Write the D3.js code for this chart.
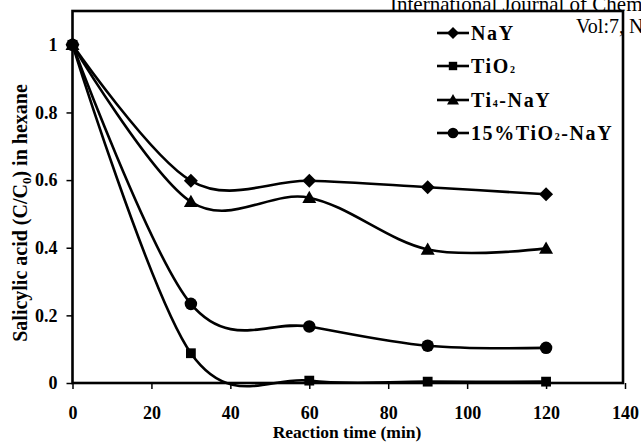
<!DOCTYPE html>
<html>
<head>
<meta charset="utf-8">
<script src="https://cdn.jsdelivr.net/npm/d3@7"></script>
<style>
  body { margin: 0; background: #fff; }
  svg { display: block; }
  svg text { font-family: "Liberation Serif", "Times New Roman", serif !important; fill: #000; }
</style>
</head>
<body>
<div id="chart"></div>
<script>
var WIDTH = 641, HEIGHT = 443;

// data
var times = [0, 30, 60, 90, 120];
var nay = [1, 0.598, 0.598, 0.579, 0.558];
var tio2 = [1, 0.088, 0.007, 0.004, 0.004];
var ti4nay = [1, 0.536, 0.548, 0.395, 0.398];
var tio2nay = [1, 0.234, 0.167, 0.110, 0.104];

var xTicks = [0, 20, 40, 60, 80, 100, 120, 140];
var yTicks = [0, 0.2, 0.4, 0.6, 0.8, 1];

var series = [
  {name: "NaY", sub: null, values: nay, marker: "diamond"},
  {name: "TiO", sub: "2", after: "", values: tio2, marker: "square"},
  {name: "Ti", sub: "4", after: "-NaY", values: ti4nay, marker: "triangle"},
  {name: "15%TiO", sub: "2", after: "-NaY", values: tio2nay, marker: "circle"}
];

var margin = {top: 11, left: 72.5};

var svg = d3.select("#chart").append("svg")
  .attr("width", WIDTH)
  .attr("height", HEIGHT);

var x = d3.scaleLinear().domain([0, 140]).range([margin.left, 625]);
var y = d3.scaleLinear().domain([0, 1.1]).range([383, margin.top]);

// header text from the journal page
svg.append("text")
  .attr("x", 390).attr("y", 11)
  .style("font-size", "21px")
  .text("International Journal of Chemical");
svg.append("text")
  .attr("x", 576).attr("y", 33)
  .style("font-size", "20px")
  .text("Vol:7, No:");

// frame
svg.append("rect")
  .attr("x", x(0)).attr("y", y(1.1))
  .attr("width", x(140) - x(0) - 2).attr("height", y(0) - y(1.1))
  .attr("fill", "none").attr("stroke", "#000").attr("stroke-width", 2.6);

// x axis
var xAxis = svg.append("g")
  .attr("transform", "translate(0," + y(0) + ")")
  .call(d3.axisBottom(x).tickValues(xTicks).tickSize(6).tickPadding(17).tickFormat(d3.format("d")))
  .call(g => g.select(".domain").remove());
xAxis.selectAll("line").attr("stroke", "#000").attr("stroke-width", 1.5);
xAxis.selectAll("text")
  .style("font-size", "18px").style("font-weight", "bold").attr("fill", "#000");

// y axis
var yAxis = svg.append("g")
  .attr("transform", "translate(" + x(0) + ",0)")
  .call(d3.axisLeft(y).tickValues(yTicks).tickSize(6).tickPadding(9).tickFormat(d => d === 0 || d === 1 ? d : d3.format(".1f")(d)))
  .call(g => g.select(".domain").remove());
yAxis.selectAll("line").attr("stroke", "#000").attr("stroke-width", 1.5);
yAxis.selectAll("text")
  .style("font-size", "18px").style("font-weight", "bold").attr("fill", "#000");

// axis titles
svg.append("text")
  .attr("x", 347).attr("y", 438)
  .attr("text-anchor", "middle")
  .style("font-size", "17.5px").style("font-weight", "bold")
  .text("Reaction time (min)");

var yt = svg.append("text")
  .attr("transform", "translate(27,213) rotate(-90)")
  .attr("text-anchor", "middle")
  .style("font-size", "20px").style("font-weight", "bold");
yt.append("tspan").text("Salicylic acid (C/C");
yt.append("tspan").attr("dy", 4).style("font-size", "13px").text("0");
yt.append("tspan").attr("dy", -4).text(") in hexane");

// markers
function markerPath(type, s) {
  if (type === "diamond") return "M0," + (-s) + "L" + s + ",0L0," + s + "L" + (-s) + ",0Z";
  if (type === "square") { var h = s * 0.7; return "M" + (-h) + "," + (-h) + "H" + h + "V" + h + "H" + (-h) + "Z"; }
  if (type === "triangle") return "M0," + (-s) + "L" + s + "," + (s * 0.75) + "L" + (-s) + "," + (s * 0.75) + "Z";
  return d3.symbol(d3.symbolCircle, Math.PI * s * s * 0.8)();
}

var line = d3.line()
  .x(function(d, i) { return x(times[i]); })
  .y(function(d) { return y(d); })
  .curve(d3.curveCardinal.tension(0));

series.forEach(function(s) {
  svg.append("path")
    .attr("d", line(s.values))
    .attr("fill", "none")
    .attr("stroke", "#000")
    .attr("stroke-width", 2.6);
});

series.forEach(function(s) {
  svg.selectAll(null)
    .data(s.values)
    .enter().append("path")
    .attr("transform", function(d, i) { return "translate(" + x(times[i]) + "," + y(d) + ")"; })
    .attr("d", markerPath(s.marker, 7))
    .attr("fill", "#000");
});

// legend
var legendY = [33, 66, 100, 133];
series.forEach(function(s, i) {
  var g = svg.append("g").attr("transform", "translate(0," + legendY[i] + ")");
  g.append("line")
    .attr("x1", 437).attr("x2", 469)
    .attr("stroke", "#000").attr("stroke-width", 2.6);
  g.append("path")
    .attr("transform", "translate(453,0)")
    .attr("d", markerPath(s.marker, 6))
    .attr("fill", "#000");
  var t = g.append("text")
    .attr("x", 471).attr("y", 7)
    .style("font-size", "20px").style("font-weight", "bold")
    .style("letter-spacing", "1.6px");
  t.append("tspan").text(s.name);
  if (s.sub) {
    t.append("tspan").style("font-size", "10px").text(s.sub);
    t.append("tspan").text(s.after);
  }
});
</script>
</body>
</html>
